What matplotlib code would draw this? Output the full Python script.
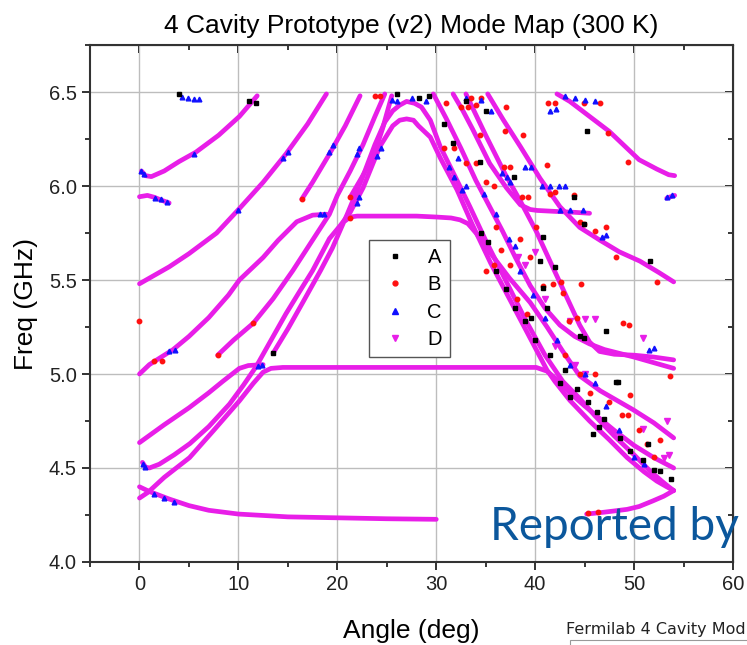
import matplotlib
matplotlib.use("Agg")
import matplotlib.pyplot as plt
import matplotlib.patches as mpatches
from matplotlib.lines import Line2D
from matplotlib.ticker import MultipleLocator, NullFormatter, FormatStrFormatter

plt.rcParams["font.family"] = ["Liberation Sans", "DejaVu Sans"]

# ── Colores ───────────────────────────────────────────────────────────────────
COL_A = "black"
COL_B = "#ff1010"
COL_C = "#1010ff"
COL_D = "#e81ee8"
LW_D = 3.4

# ── Modos seguidos (serie D, trazos continuos) ────────────────────────────────
bottom_x = [0, 1, 2, 3, 5, 7, 10, 15, 20, 25, 30]
bottom_y = [4.40, 4.375, 4.355, 4.335, 4.30, 4.275, 4.255, 4.24, 4.235, 4.23, 4.227]

low_a_x = [0, 2.5, 5, 7, 8.4, 10.1, 11, 12.5]
low_a_y = [4.635, 4.73, 4.82, 4.90, 4.96, 5.03, 5.045, 5.05]

inner_x = [0.3, 0.6, 1.0, 2, 3.5, 5.1, 7, 9.1, 10.5, 11.8, 13.3, 14.8, 16.2, 17.5,
           19.2, 20.3, 21.3, 22.6, 24.3, 25.6, 26.3, 27.0, 27.7, 28.2, 29.4, 30.4,
           32.1, 33.6, 35.5, 37.5, 39.5, 41.2, 42.0, 43.5, 45.5, 47.5, 49.3, 51.0,
           52.3, 53.3, 54.0]
inner_y = [4.53, 4.505, 4.50, 4.52, 4.57, 4.63, 4.72, 4.84, 4.94, 5.04, 5.18, 5.32,
           5.44, 5.55, 5.72, 5.79, 5.86, 5.99, 6.21, 6.32, 6.35, 6.357, 6.35, 6.32,
           6.26, 6.15, 5.98, 5.80, 5.59, 5.39, 5.19, 5.02, 4.96, 4.86, 4.75, 4.65,
           4.555, 4.48, 4.43, 4.40, 4.38]

outer_x = [13.5, 15, 16.5, 18.3, 19.5, 21, 22.5, 23.8, 24.8, 25.6, 26.3, 27, 27.8,
           28.5, 29.4, 30.4, 32.1, 33.4, 35, 37, 39, 41, 42.8, 44.5, 46, 48, 50,
           51.5, 52.8, 53.5, 54]
outer_y = [5.11, 5.24, 5.38, 5.55, 5.67, 5.85, 6.04, 6.22, 6.34, 6.40, 6.43, 6.45,
           6.44, 6.42, 6.35, 6.21, 6.03, 5.89, 5.71, 5.50, 5.29, 5.10, 4.96, 4.87,
           4.78, 4.67, 4.57, 4.49, 4.43, 4.40, 4.38]

flat5_x = [0, 0.85, 2.5, 5.06, 7.5, 10.1, 11.5, 12.5, 13.3, 14.5, 20, 30, 40.1,
           41.2, 42.2, 43.5, 45, 46.6, 48, 50, 52, 54]
flat5_y = [4.34, 4.37, 4.45, 4.555, 4.70, 4.857, 4.95, 5.01, 5.03, 5.035, 5.035,
           5.035, 5.035, 5.015, 4.97, 4.90, 4.83, 4.76, 4.70, 4.62, 4.555, 4.50]

flat58_x = [20.8, 21.3, 22, 25, 28, 30, 31.5, 32.4, 33.2, 34.1, 35.1, 36.1, 37.4,
            39.5, 41.2, 42.8, 44.5, 46.6, 49.9, 52, 54]
flat58_y = [5.815, 5.835, 5.84, 5.84, 5.84, 5.835, 5.83, 5.82, 5.80, 5.745, 5.67,
            5.60, 5.51, 5.38, 5.25, 5.12, 4.99, 4.91, 4.81, 4.74, 4.66]

rise1_x = [0.2, 0.6, 1.2, 2.5, 4, 5.7, 8, 10.1, 11.9]
rise1_y = [6.08, 6.055, 6.05, 6.08, 6.13, 6.18, 6.27, 6.37, 6.48]

stub_x = [0, 0.8, 1.5, 2.2, 3.0]
stub_y = [5.943, 5.95, 5.94, 5.925, 5.91]

rise2_x = [0, 1, 3, 5, 7.8, 10.1, 12.5, 14.8, 17, 18.9]
rise2_y = [5.48, 5.51, 5.57, 5.64, 5.75, 5.88, 6.02, 6.17, 6.33, 6.49]

rise3_x = [0, 1, 3.4, 5, 7, 9, 10.1, 11.1, 12.5, 14, 15.9, 17.5, 18.9]
rise3_y = [5.0, 5.05, 5.13, 5.20, 5.30, 5.42, 5.50, 5.55, 5.62, 5.71, 5.81, 5.845, 5.85]

rise4_x = [7.9, 9.5, 11.5, 13.5, 15.5, 17.9, 19.2, 20.0, 21.3, 22.6, 23.8, 24.8]
rise4_y = [5.10, 5.18, 5.27, 5.40, 5.55, 5.745, 5.85, 5.95, 6.08, 6.22, 6.37, 6.49]

rise5_x = [16.4, 17.5, 19.2, 20.8, 22.3]
rise5_y = [5.93, 6.02, 6.17, 6.32, 6.48]

rise6_x = [21.3, 22.3, 23.6, 24.6, 25.5]
rise6_y = [5.94, 6.03, 6.15, 6.31, 6.48]

fall1_x = [29.7, 31, 32.5, 34, 35.5, 36.7, 38, 39.5, 41, 42.5, 44, 45.5, 47, 48.5,
           50, 52, 54]
fall1_y = [6.49, 6.36, 6.20, 6.03, 5.88, 5.76, 5.62, 5.47, 5.35, 5.26, 5.20, 5.16,
           5.13, 5.11, 5.09, 5.06, 5.03]

fall2_x = [33, 35, 37, 38.5, 40.1, 41.5, 43, 44.5, 45.5, 46.5, 48, 50, 52, 54]
fall2_y = [6.49, 6.27, 6.06, 5.92, 5.76, 5.60, 5.43, 5.26, 5.17, 5.12, 5.105, 5.10,
           5.09, 5.075]

fall3_x = [31.7, 32.7, 33.7, 35.4, 37.1, 38.5, 39.5, 40.2, 42, 44, 45.5]
fall3_y = [6.49, 6.40, 6.30, 6.12, 5.99, 5.90, 5.875, 5.87, 5.865, 5.86, 5.855]

fall4_x = [35.2, 36.8, 38.5, 40.5, 42.5, 44.5, 46.6, 48.5, 50.6, 52.5, 54]
fall4_y = [6.49, 6.35, 6.21, 6.04, 5.89, 5.78, 5.71, 5.65, 5.60, 5.54, 5.49]

fall5_x = [42.2, 43.5, 45.5, 47.5, 49.3, 50.5, 52.3, 53.5, 54.1]
fall5_y = [6.49, 6.45, 6.37, 6.29, 6.20, 6.14, 6.09, 6.06, 6.055]

tail_x = [45.2, 47, 49.3, 50.5, 51.9, 53, 54]
tail_y = [4.255, 4.265, 4.28, 4.295, 4.325, 4.35, 4.38]

blip_x = [53.3, 53.8, 54.1]
blip_y = [5.935, 5.945, 5.95]

tracks = [
    (bottom_x, bottom_y), (low_a_x, low_a_y), (inner_x, inner_y),
    (outer_x, outer_y), (flat5_x, flat5_y), (flat58_x, flat58_y),
    (rise1_x, rise1_y), (stub_x, stub_y), (rise2_x, rise2_y),
    (rise3_x, rise3_y), (rise4_x, rise4_y), (rise5_x, rise5_y),
    (rise6_x, rise6_y), (fall1_x, fall1_y), (fall2_x, fall2_y),
    (fall3_x, fall3_y), (fall4_x, fall4_y), (fall5_x, fall5_y),
    (tail_x, tail_y), (blip_x, blip_y),
]

# ── Puntos sueltos por serie ──────────────────────────────────────────────────
a_x = [4.0, 11.1, 11.8, 13.5, 26.0, 28.3, 29.3, 31.7, 34.4, 33.0, 30.8, 35.0,
       37.9, 40.8, 43.9, 44.9, 45.2, 51.6, 48.2, 44.5, 40.8, 41.2, 44.9, 47.2,
       48.6, 49.6, 50.9, 52.0, 52.6, 51.4, 48.4, 43.0, 36.0, 37.0, 38.0, 39.0,
       40.0, 41.5, 42.5, 43.5, 44.2, 45.3, 46.2, 47.0, 34.5, 35.2, 39.6, 46.5,
       45.8, 53.7, 40.5, 42.0]
a_y = [6.49, 6.45, 6.44, 5.11, 6.49, 6.47, 6.48, 6.23, 6.13, 6.45, 6.33, 6.40,
       6.05, 5.73, 5.94, 5.80, 6.29, 5.60, 4.96, 5.20, 5.46, 5.35, 5.19, 5.23,
       4.66, 4.59, 4.54, 4.49, 4.485, 4.63, 4.955, 5.02, 5.55, 5.45, 5.35, 5.28,
       5.18, 5.10, 4.95, 4.88, 4.92, 4.85, 4.80, 4.76, 5.75, 5.70, 5.30, 4.72,
       4.68, 4.44, 5.60, 5.57]

b_x = [0, 1.5, 2.3, 7.9, 11.5, 16.4, 21.3, 21.3, 24.3, 23.8, 31.0, 32.5, 33.2,
       34.0, 33.5, 34.5, 30.8, 31.8, 33.0, 34.0, 34.4, 36.9, 37.1, 38.8, 35.0,
       35.8, 36.8, 37.5, 38.7, 39.3, 41.2, 41.5, 42.0, 43.9, 44.9, 47.2, 40.1,
       41.3, 42.0, 44.9, 46.6, 47.4, 49.4, 48.2, 52.3, 44.5, 46.0, 35.0, 35.8,
       40.8, 41.8, 42.6, 44.6, 42.8, 43.4, 44.2, 48.9, 49.5, 53.6, 49.6, 51.3,
       52.6, 48.8, 49.4, 45.3, 46.3, 38.2, 39.2, 37.5, 36.5, 43.0, 44.5, 46.0,
       45.5, 47.5, 52.0, 50.5, 38.5, 39.5, 36.0]
b_y = [5.28, 5.07, 5.07, 5.10, 5.27, 5.93, 5.94, 5.83, 6.48, 6.48, 6.44, 6.42,
       6.42, 6.43, 6.47, 6.47, 6.20, 6.20, 6.12, 6.12, 6.27, 6.29, 6.42, 6.27,
       6.02, 6.00, 6.10, 6.10, 5.94, 5.94, 6.11, 5.96, 5.97, 5.95, 5.80, 5.78,
       5.78, 6.44, 6.44, 6.44, 6.44, 6.28, 6.13, 5.62, 5.49, 5.81, 5.76, 5.55,
       5.58, 5.47, 5.48, 5.49, 5.48, 5.43, 5.28, 5.30, 5.27, 5.26, 4.99, 4.89,
       4.63, 4.65, 4.78, 4.78, 4.26, 4.265, 5.40, 5.32, 5.58, 5.66, 5.10, 5.00,
       5.00, 4.90, 4.85, 4.56, 4.70, 5.72, 5.62, 5.78]

c_x = [0.2, 0.45, 1.6, 2.2, 2.8, 4.3, 4.9, 5.5, 6.0, 5.5, 10.0, 14.5, 15.0, 19.2,
       19.6, 22.0, 22.2, 22.0, 22.2, 24.0, 24.4, 18.2, 18.7, 3.0, 3.6, 0.35, 0.6,
       1.5, 2.5, 3.5, 12.0, 12.4, 25.5, 26.0, 27.5, 29.0, 31.3, 31.8, 32.2, 32.6,
       33.0, 36.6, 37.2, 37.5, 39.0, 39.6, 40.7, 41.5, 42.4, 43.0, 42.5, 43.5,
       44.8, 41.5, 42.1, 43.0, 44.0, 45.0, 46.0, 33.0, 34.5, 35.5, 34.8, 36.0,
       38.5, 39.8, 41.0, 42.2, 43.5, 45.0, 46.0, 47.2, 48.5, 50.0, 51.0, 51.5,
       52.0, 53.3, 53.8, 46.8, 47.2, 38.0, 37.4]
c_y = [6.08, 6.065, 5.935, 5.93, 5.915, 6.475, 6.47, 6.465, 6.465, 6.17, 5.875,
       6.15, 6.18, 6.18, 6.22, 6.17, 6.20, 5.91, 5.94, 6.16, 6.20, 5.85, 5.85,
       5.12, 5.13, 4.52, 4.505, 4.36, 4.34, 4.32, 5.045, 5.05, 6.46, 6.45, 6.47,
       6.45, 6.10, 6.05, 6.15, 5.98, 6.00, 6.07, 6.05, 6.02, 6.10, 6.10, 6.00,
       6.00, 6.00, 6.00, 5.87, 5.87, 5.87, 6.40, 6.41, 6.48, 6.47, 6.46, 6.45,
       6.47, 6.46, 6.40, 5.96, 5.85, 5.55, 5.42, 5.30, 5.18, 5.05, 5.00, 4.95,
       4.83, 4.70, 4.56, 4.52, 5.13, 5.14, 5.94, 5.95, 5.73, 5.74, 5.68, 5.72]

d_x = [38.3, 39.0, 40.0, 43.5, 45.0, 46.0, 50.9, 50.9, 53.0, 53.3, 53.5, 44.0,
       45.0, 42.0, 41.0]
d_y = [5.62, 5.58, 5.65, 5.28, 5.29, 5.29, 5.19, 4.71, 4.555, 4.75, 4.57, 5.05,
       5.00, 5.15, 5.40]

# ── Figura ────────────────────────────────────────────────────────────────────
fig = plt.figure(figsize=(7.47, 6.45), dpi=100)
ax = fig.add_axes([0.1205, 0.1287, 0.8608, 0.8015])

for tx, ty in tracks:
    ax.plot(tx, ty, color=COL_D, lw=LW_D, solid_capstyle="round",
            solid_joinstyle="round", zorder=3)

ax.plot(d_x, d_y, ls="none", marker="v", ms=3.8, color=COL_D, zorder=4)
ax.plot(b_x, b_y, ls="none", marker="o", ms=3.2, color=COL_B, zorder=5)
ax.plot(c_x, c_y, ls="none", marker="^", ms=3.4, color=COL_C, zorder=5)
ax.plot(a_x, a_y, ls="none", marker="s", ms=2.3, color=COL_A, zorder=6)

ax.set_xlim(-5, 60)
ax.set_ylim(4.0, 6.75)
ax.xaxis.set_major_locator(MultipleLocator(10))
ax.xaxis.set_minor_locator(MultipleLocator(5))
ax.yaxis.set_major_locator(MultipleLocator(0.5))
ax.yaxis.set_minor_locator(MultipleLocator(0.25))
ax.yaxis.set_major_formatter(FormatStrFormatter("%.1f"))
ax.grid(True, which="major", color="#bdbdbd", lw=1.0, zorder=0)
ax.set_axisbelow(True)
ax.tick_params(which="major", direction="out", length=6, width=1.3,
               labelsize=14.5, colors="#222222")
ax.tick_params(which="minor", direction="out", length=3.5, width=1.1)
for s in ax.spines.values():
    s.set_linewidth(1.5)
    s.set_color("#333333")

# marcas interiores arriba y a la derecha
secx = ax.secondary_xaxis("top")
secx.xaxis.set_major_locator(MultipleLocator(10))
secx.xaxis.set_minor_locator(MultipleLocator(5))
secx.xaxis.set_major_formatter(NullFormatter())
secx.tick_params(which="major", direction="in", length=6, width=1.3)
secx.tick_params(which="minor", direction="in", length=3.5, width=1.1)
secy = ax.secondary_yaxis("right")
secy.yaxis.set_major_locator(MultipleLocator(0.5))
secy.yaxis.set_minor_locator(MultipleLocator(0.25))
secy.yaxis.set_major_formatter(NullFormatter())
secy.tick_params(which="major", direction="in", length=6, width=1.3)
secy.tick_params(which="minor", direction="in", length=3.5, width=1.1)

ax.set_xlabel("Angle (deg)", fontsize=19, labelpad=18)
ax.set_ylabel("Freq (GHz)", fontsize=19, labelpad=8)
ax.set_title("4 Cavity Prototype (v2) Mode Map (300 K)", fontsize=19, pad=9)

handles = [
    Line2D([], [], ls="none", marker="s", ms=3, color=COL_A),
    Line2D([], [], ls="none", marker="o", ms=3.5, color=COL_B),
    Line2D([], [], ls="none", marker="^", ms=4, color=COL_C),
    Line2D([], [], ls="none", marker="v", ms=4, color=COL_D),
]
leg = ax.legend(handles, ["A", "B", "C", "D"], loc="upper left",
                bbox_to_anchor=(0.434, 0.623), borderaxespad=0, fontsize=14.5,
                frameon=True, fancybox=False, framealpha=1, edgecolor="#555555",
                handlelength=1.8, handletextpad=0.7, labelspacing=0.42,
                borderpad=0.4)
leg.get_frame().set_linewidth(1.0)
leg.set_zorder(10)

# texto superpuesto de la diapositiva
fig.text(490 / 747, (645 - 540) / 645, "Reported by", fontsize=33,
         color="#0b579c", family="Lato", ha="left", va="baseline", zorder=20)
fig.text(566 / 747, (645 - 634) / 645, "Fermilab 4 Cavity Mod", fontsize=11.5,
         family="DejaVu Sans", color="#222222", ha="left", va="baseline")
fig.patches.append(mpatches.Rectangle((570 / 747, -0.02), 0.3, 0.02 + 5 / 645,
                                      transform=fig.transFigure, fill=False,
                                      edgecolor="#999999", lw=0.8))

fig.savefig("out.png", dpi=100, facecolor="white")
